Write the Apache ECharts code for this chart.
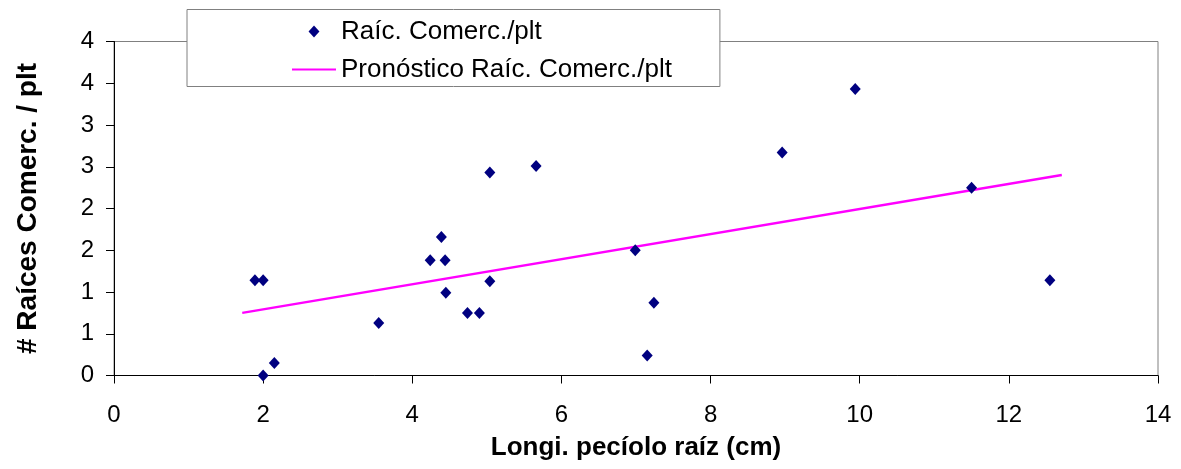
<!DOCTYPE html>
<html>
<head>
<meta charset="utf-8">
<script src="https://cdn.jsdelivr.net/npm/echarts@6/dist/echarts.min.js"></script>
<style>
  html, body { margin: 0; padding: 0; background: #fff; }
  #chart { width: 1181px; height: 469px; }
</style>
</head>
<body>
<div id="chart"></div>
<script>
// longitud del pecíolo (cm) y raíces comerciales por planta
const petioleLength = [1.89, 2.0, 2.0, 2.15, 3.55, 4.24, 4.39, 4.44, 4.45, 4.74, 4.9, 5.04, 5.04, 5.66, 6.99, 7.24, 7.15, 8.96, 9.94, 11.5, 12.55]
const rootsPerPlant = [1.14, 1.14, 0, 0.15, 0.63, 1.38, 1.66, 1.38, 0.99, 0.75, 0.75, 1.13, 2.43, 2.51, 1.50, 0.87, 0.24, 2.67, 3.43, 2.25, 1.14]
// extremos de la línea de pronóstico
const trendX = [1.72, 12.71]
const trendY = [0.75, 2.40]
const yTickLabels = ['0', '1', '1', '2', '2', '3', '3', '4', '4']
const xTickLabels = ['0', '2', '4', '6', '8', '10', '12', '14']

const FONT = "'Liberation Sans', Arial, sans-serif"
const scatterName = 'Raíc. Comerc./plt'
const trendName = 'Pronóstico Raíc. Comerc./plt'

var chart = echarts.init(document.getElementById('chart'))

var option = {
    animation: false,
    textStyle: { fontFamily: FONT },
    grid: {
        left: 114,
        right: 23,
        top: 41.5,
        bottom: 93.5,
        show: true,
        borderColor: '#808080',
        borderWidth: 1,
        backgroundColor: 'transparent'
    },
    legend: {
        orient: 'vertical',
        left: 187,
        top: 9.5,
        padding: [9, 48, 4, 105],
        itemGap: 12,
        itemWidth: 44,
        itemHeight: 12,
        symbolKeepAspect: true,
        borderColor: '#808080',
        borderWidth: 1,
        backgroundColor: '#fff',
        textStyle: {
            fontFamily: FONT,
            fontSize: 26,
            lineHeight: 26,
            color: '#000'
        },
        data: [
            { name: scatterName, icon: 'path://M5,0L10,5.5L5,11L0,5.5Z', itemStyle: { color: '#000080', opacity: 1 } },
            { name: trendName, icon: 'path://M0,0L44,0L44,2.2L0,2.2Z', itemStyle: { color: '#FF00FF' } }
        ]
    },
    xAxis: {
        type: 'value',
        min: 0,
        max: 14,
        interval: 2,
        name: 'Longi. pecíolo raíz (cm)',
        nameLocation: 'middle',
        nameGap: 59,
        nameTextStyle: {
            fontFamily: FONT,
            fontSize: 26,
            fontWeight: 'bold',
            color: '#000'
        },
        axisLine: { show: true, lineStyle: { color: '#000', width: 1 } },
        axisTick: { show: true, inside: false, length: 8, lineStyle: { color: '#000' } },
        axisLabel: {
            margin: 28,
            fontSize: 24,
            fontFamily: FONT,
            color: '#000',
            formatter: function (v) { return xTickLabels[Math.round(v / 2)] }
        },
        splitLine: { show: false }
    },
    yAxis: {
        type: 'value',
        min: 0,
        max: 4,
        interval: 0.5,
        name: '# Raíces Comerc. / plt',
        nameLocation: 'middle',
        nameGap: 72,
        nameRotate: 90,
        nameTextStyle: {
            fontFamily: FONT,
            fontSize: 28,
            fontWeight: 'bold',
            color: '#000'
        },
        axisLine: { show: true, lineStyle: { color: '#000', width: 1 } },
        axisTick: { show: true, inside: false, length: 8, lineStyle: { color: '#000' } },
        axisLabel: {
            margin: 20,
            fontSize: 24,
            fontFamily: FONT,
            color: '#000',
            formatter: function (v) { return yTickLabels[Math.round(v / 0.5)] }
        },
        splitLine: { show: false }
    },
    series: [{
        name: scatterName,
        type: 'scatter',
        symbol: 'diamond',
        symbolSize: [11, 12],
        itemStyle: { color: '#000080', opacity: 1 },
        data: petioleLength.map(function (x, i) { return [x, rootsPerPlant[i]] }),
        z: 3
    }, {
        name: trendName,
        type: 'line',
        symbol: 'none',
        showSymbol: false,
        lineStyle: { color: '#FF00FF', width: 2.5 },
        itemStyle: { color: '#FF00FF' },
        data: trendX.map(function (x, i) { return [x, trendY[i]] }),
        z: 2
    }]
}

chart.setOption(option)
</script>
</body>
</html>
